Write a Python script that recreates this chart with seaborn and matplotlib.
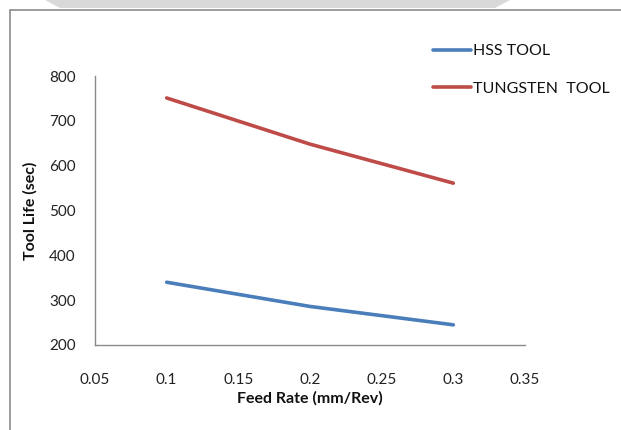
import matplotlib
matplotlib.use("Agg")
import matplotlib.pyplot as plt
from matplotlib.lines import Line2D
from matplotlib.patches import Polygon
import seaborn as sns
import pandas as pd

feed_rate = [0.1, 0.2, 0.3]
hss_life = [340, 286, 245]
tungsten_life = [751, 648, 561]
series_names = ["HSS TOOL", "TUNGSTEN  TOOL"]
x_ticks = [0.05, 0.1, 0.15, 0.2, 0.25, 0.3, 0.35]
x_tick_labels = ["0.05", "0.1", "0.15", "0.2", "0.25", "0.3", "0.35"]
y_ticks = [200, 300, 400, 500, 600, 700, 800]

df = pd.DataFrame({
    "feed": feed_rate * 2,
    "life": hss_life + tungsten_life,
    "series": [series_names[0]] * 3 + [series_names[1]] * 3,
})

sns.set_theme(style="white")
plt.rcParams["font.family"] = ["Lato", "DejaVu Sans"]

W, H = 621, 430
fig = plt.figure(figsize=(W / 100, H / 100), dpi=100)
ax = fig.add_axes([95 / W, 1 - 345 / H, (525 - 95) / W, (345 - 76) / H])

sns.lineplot(data=df, x="feed", y="life", hue="series",
             palette={series_names[0]: "#4A7EBB", series_names[1]: "#BE4B48"},
             linewidth=2.6, ax=ax, legend=True)

ax.set_xlim(0.05, 0.35)
ax.set_ylim(200, 800)
ax.set_xticks(x_ticks)
ax.set_xticklabels(x_tick_labels)
ax.set_yticks(y_ticks)
ax.tick_params(axis="both", length=0, labelsize=11, colors="#222222")
ax.tick_params(axis="y", pad=14)
ax.tick_params(axis="x", pad=20)
for s in ["top", "right"]:
    ax.spines[s].set_visible(False)
for s in ["left", "bottom"]:
    ax.spines[s].set_color("#8a8a8a")
    ax.spines[s].set_linewidth(1.0)

ax.set_xlabel("Feed Rate (mm/Rev)", fontsize=11.5, fontweight="bold", labelpad=3, color="#111111")
ax.set_ylabel("Tool Life (sec)", fontsize=11.5, fontweight="bold", labelpad=8, color="#111111")

leg = ax.legend(loc="upper left", bbox_to_anchor=(433 / W, 1 - 44 / H),
                bbox_transform=fig.transFigure, frameon=False, fontsize=11.5,
                handlelength=2.4, handletextpad=0.1, labelspacing=1.45,
                borderaxespad=0, borderpad=0)
for t in leg.get_texts():
    t.set_color("#111111")

# outer chart frame and decoration
fig.add_artist(Line2D([10 / W, 10 / W], [0, 1 - 10 / H], transform=fig.transFigure,
                      color="#8c8c8c", linewidth=1.2))
fig.add_artist(Line2D([10 / W, 1], [1 - 10 / H, 1 - 10 / H], transform=fig.transFigure,
                      color="#8c8c8c", linewidth=1.2))
fig.add_artist(Polygon([[45 / W, 1], [510 / W, 1], [495 / W, 1 - 8 / H], [60 / W, 1 - 8 / H]],
                       closed=True, transform=fig.transFigure, facecolor="#d9d9d9",
                       edgecolor="none"))

fig.savefig("out.png", dpi=100, facecolor="white")
